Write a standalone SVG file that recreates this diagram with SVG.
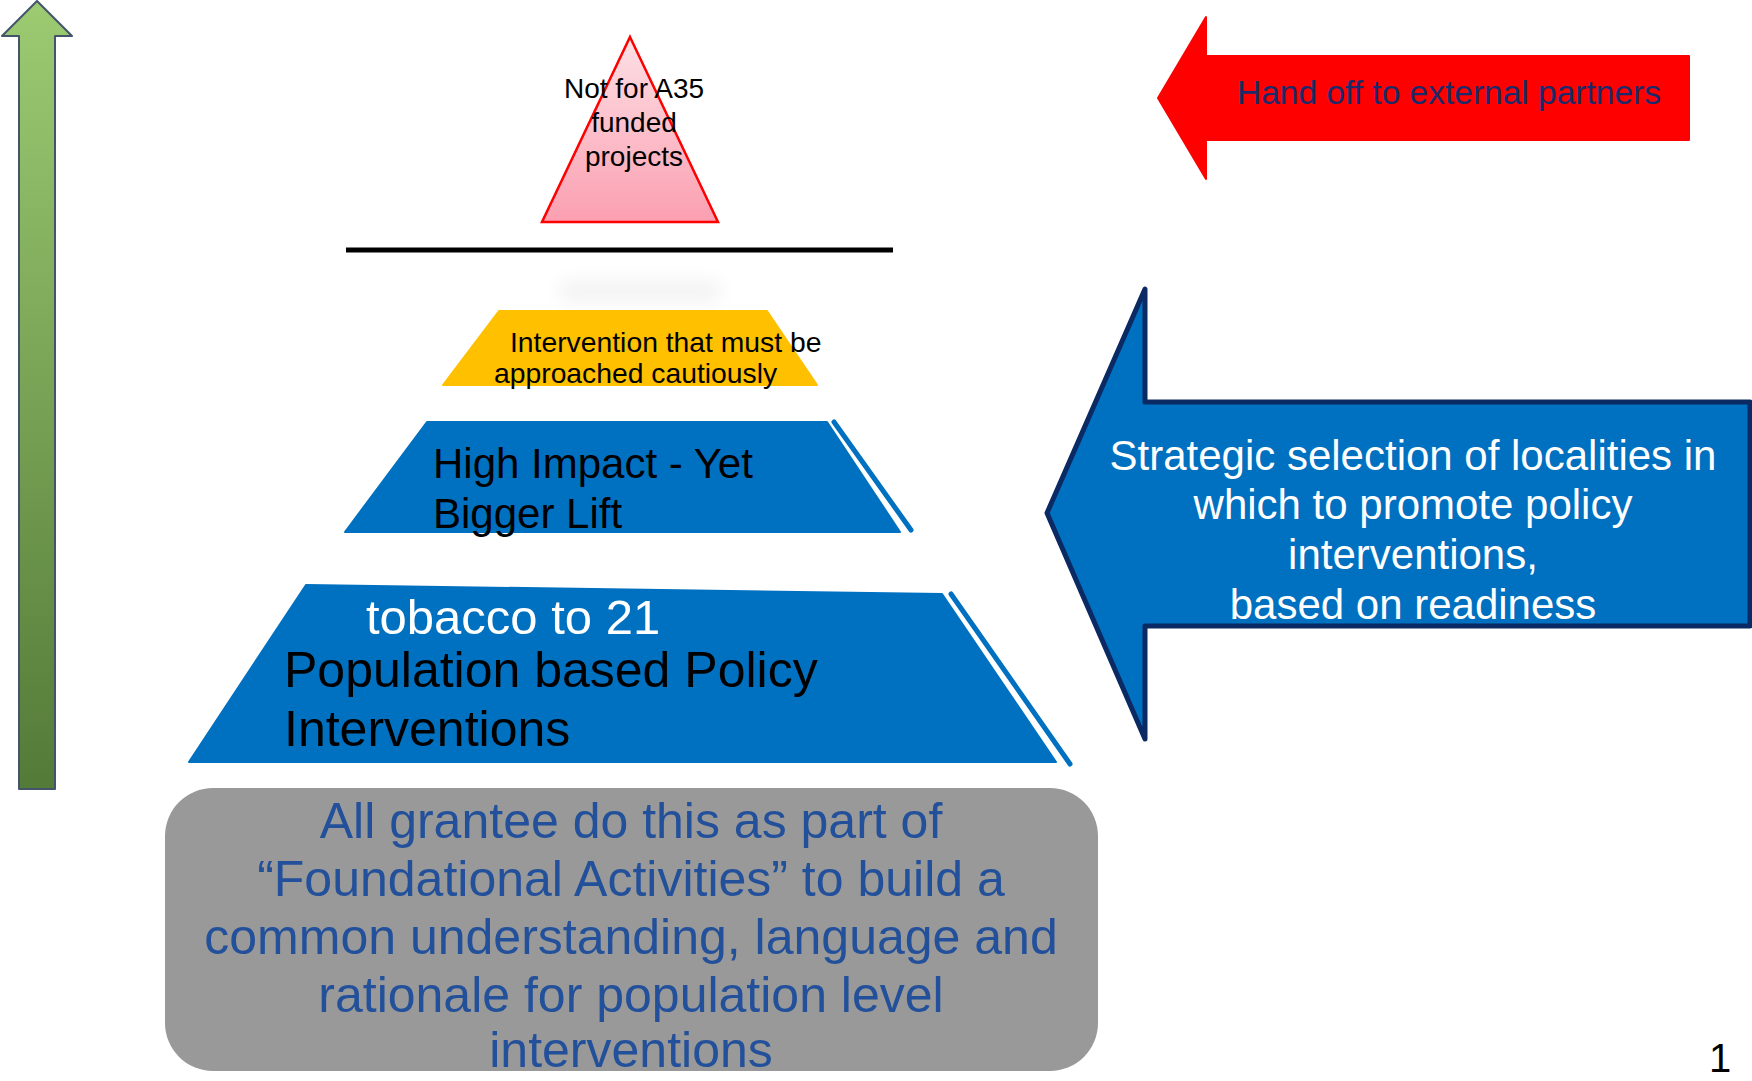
<svg xmlns="http://www.w3.org/2000/svg" width="1752" height="1081" viewBox="0 0 1752 1081">
<style>
text{font-family:"Liberation Sans",Arial,sans-serif}
.blk{fill:#000}
.wht{fill:#fff}
.navy{fill:#1B2A6B}
.gblue{fill:#23509A}
.blue{fill:#0070C0}
</style>
<defs>
<linearGradient id="gGreen" x1="0" y1="0" x2="0" y2="1">
<stop offset="0" stop-color="#9CCB72"/>
<stop offset="1" stop-color="#547A38"/>
</linearGradient>
<linearGradient id="gPink" x1="0" y1="0" x2="0" y2="1">
<stop offset="0" stop-color="#FDE0E5"/>
<stop offset="1" stop-color="#FB9FB1"/>
</linearGradient>
<filter id="blur" x="-50%" y="-300%" width="200%" height="700%">
<feGaussianBlur stdDeviation="10"/>
</filter>
<filter id="blur2" x="-10%" y="-300%" width="120%" height="700%">
<feGaussianBlur stdDeviation="3"/>
</filter>
</defs>

<g id="progress-arrow">
<polygon points="37,1 72,36 55,36 55,789 19,789 19,36 2,36" fill="url(#gGreen)" stroke="#44546A" stroke-width="2" stroke-linejoin="round"/>
</g>

<g id="not-funded">
<polygon points="630,37 718,222 542,222" fill="url(#gPink)" stroke="#FF0000" stroke-width="2.5"/>
<text class="blk" font-size="28" text-anchor="middle"><tspan x="634" y="98">Not for A35</tspan><tspan x="634" y="132">funded</tspan><tspan x="634" y="166">projects</tspan></text>
</g>

<g id="divider">
<rect x="560" y="282" width="160" height="18" fill="#000" opacity="0.06" filter="url(#blur)"/>
<line x1="346" y1="254" x2="893" y2="254" stroke="#999" stroke-width="4" opacity="0.5" filter="url(#blur2)"/>
<line x1="346" y1="250" x2="893" y2="250" stroke="#000" stroke-width="5"/>
</g>

<g id="cautious">
<polygon points="499,311 767,311 817,385 443,385" fill="#FFC000" stroke="#FFC000" stroke-width="2" stroke-linejoin="round"/>
<text class="blk" font-size="28.3"><tspan x="510" y="352">Intervention that must be</tspan><tspan x="494" y="383">approached cautiously</tspan></text>
</g>

<g id="high-impact">
<polygon points="427,422 827,422 900,532 345,532" class="blue" stroke="#0070C0" stroke-width="2" stroke-linejoin="round"/>
<line x1="834" y1="422" x2="911" y2="530" stroke="#0070C0" stroke-width="5" stroke-linecap="round"/>
<text class="blk" font-size="42"><tspan x="433" y="478">High Impact - Yet</tspan><tspan x="433" y="528">Bigger Lift</tspan></text>
</g>

<g id="population">
<polygon points="306,585 942,594 1056,762 189,762" class="blue" stroke="#0070C0" stroke-width="2" stroke-linejoin="round"/>
<line x1="951" y1="594" x2="1070" y2="764" stroke="#0070C0" stroke-width="5" stroke-linecap="round"/>
<text class="wht" font-size="49" x="366" y="634">tobacco to 21</text>
<text class="blk" font-size="50"><tspan x="284" y="687">Population based Policy</tspan><tspan x="284" y="746">Interventions</tspan></text>
</g>

<g id="foundational">
<rect x="165" y="788" width="933" height="283" rx="48" ry="48" fill="#999999"/>
<text class="gblue" font-size="50" text-anchor="middle"><tspan x="631" y="838">All grantee do this as part of</tspan><tspan x="631" y="896">“Foundational Activities” to build a</tspan><tspan x="631" y="954">common understanding, language and</tspan><tspan x="631" y="1012">rationale for population level</tspan><tspan x="631" y="1067">interventions</tspan></text>
</g>

<g id="hand-off">
<polygon points="1158,98 1206,17 1206,56 1689,56 1689,140 1206,140 1206,179" fill="#FF0000" stroke="#FF0000" stroke-width="2" stroke-linejoin="round"/>
<text class="navy" font-size="33.5" x="1237" y="104">Hand off to external partners</text>
</g>

<g id="strategic">
<polygon points="1047,513 1145,289 1145,402 1750,402 1750,626 1145,626 1145,739" class="blue" stroke="#0B2A63" stroke-width="5" stroke-linejoin="round"/>
<text class="wht" font-size="42" text-anchor="middle"><tspan x="1413" y="470">Strategic selection of localities in</tspan><tspan x="1413" y="519">which to promote policy</tspan><tspan x="1413" y="569">interventions,</tspan><tspan x="1413" y="619">based on readiness</tspan></text>
</g>

<g id="connectors"></g>

<text class="blk" font-size="40" x="1720" y="1072" text-anchor="middle">1</text>
</svg>
